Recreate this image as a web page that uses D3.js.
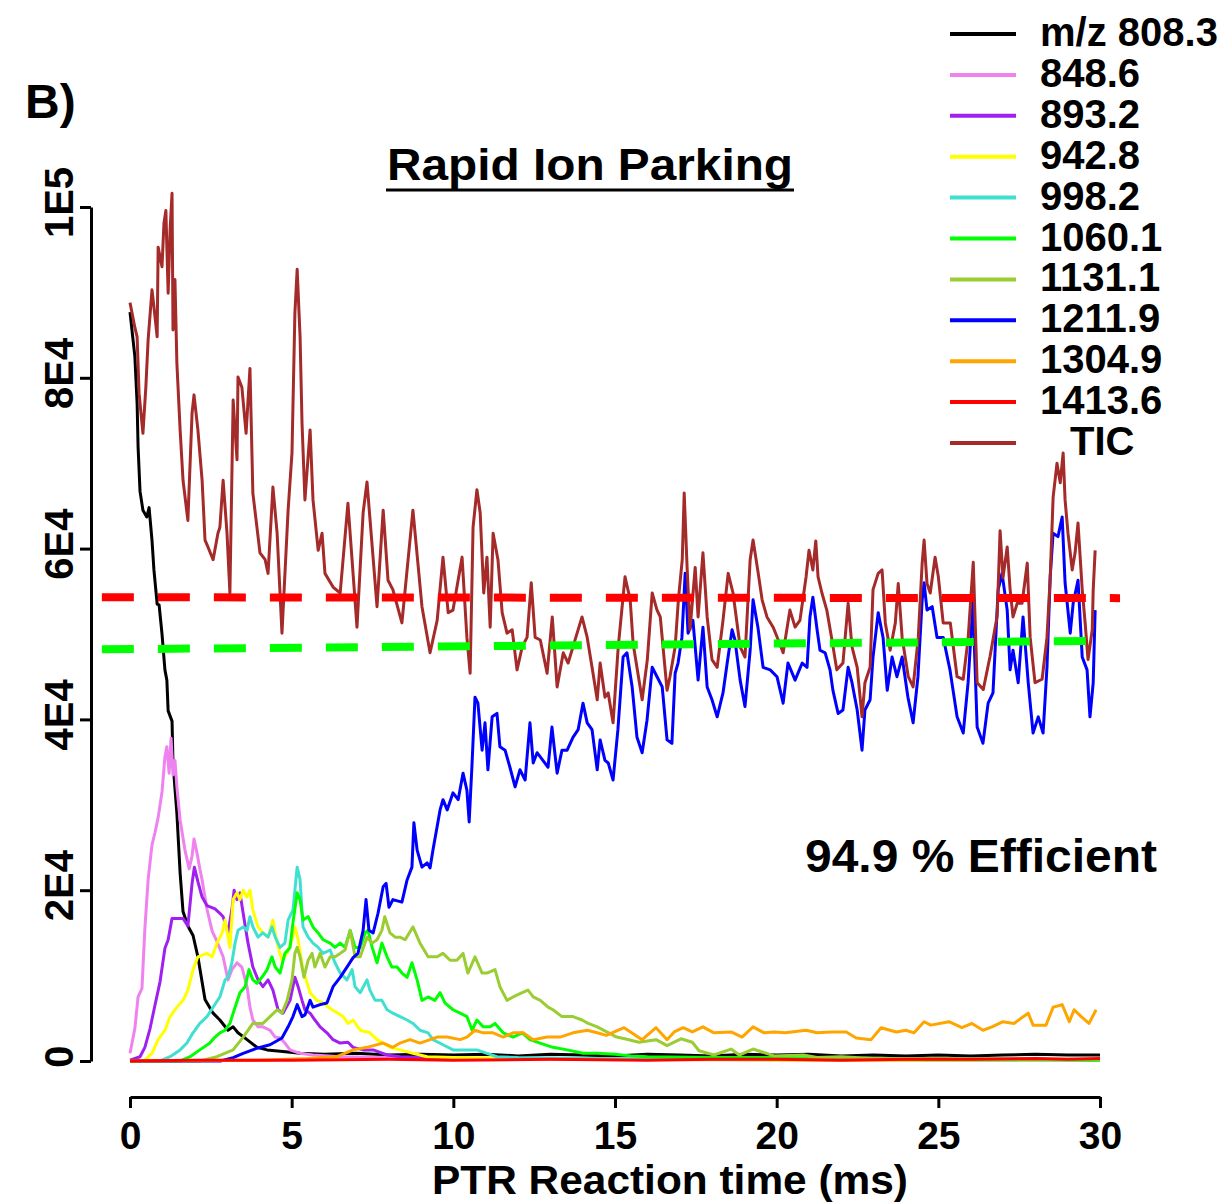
<!DOCTYPE html>
<html>
<head>
<meta charset="utf-8">
<script src="https://cdn.jsdelivr.net/npm/d3@7"></script>
<style>
  body { margin: 0; background: #fff; }
  text { font-family: "Liberation Sans", Arial, sans-serif; font-weight: bold; fill: #000; }
</style>
</head>
<body>
<svg id="chart" width="1230" height="1203"></svg>
<script>
// ---- data (time in ms, intensity in thousands of counts) ----
var xTicks = [0, 5, 10, 15, 20, 25, 30];
var yTicks = [0, 20, 40, 60, 80, 100];
var yTickLabels = ['0', '2E4', '4E4', '6E4', '8E4', '1E5'];

var legendNames = ['m/z 808.3', '848.6', '893.2', '942.8', '998.2', '1060.1', '1131.1', '1211.9', '1304.9', '1413.6', 'TIC'];
var legendColors = ['#000000', '#EE82EE', '#A020F0', '#FFFF00', '#40E0D0', '#00FF00', '#9ACD32', '#0000FF', '#FFA500', '#FF0000', '#A52A2A'];

var mz808 = [[0,87.7],[0.15,82.5],[0.22,77],[0.25,71.9],[0.31,66.7],[0.40,64.5],[0.52,63.7],[0.59,64.8],[0.68,61],[0.74,57.5],[0.84,53.5],[0.90,53.4],[0.99,50],[1.08,45.8],[1.14,44.6],[1.18,41],[1.30,39.8],[1.33,34.9],[1.45,29.0],[1.55,22],[1.64,17.5],[1.79,15.8],[1.95,14.7],[2.10,12.2],[2.32,7.2],[2.57,5.6],[2.78,4.8],[3.03,3.6],[3.19,4.0],[3.34,3.3],[3.62,2.5],[3.93,1.6],[4.24,1.3],[4.73,1.1],[5.26,0.9],[6,0.8],[7,0.9],[8,0.7],[9,0.8],[10,0.7],[11,0.8],[12,0.6],[13,0.8],[14,0.7],[15,0.6],[16,0.8],[17,0.7],[18,0.6],[19,0.8],[20,0.7],[21,0.8],[22,0.6],[23,0.7],[24,0.6],[25,0.7],[26,0.6],[27,0.7],[28,0.8],[29,0.7],[30,0.7]];

var mz848 = [[0,0.9],[0.15,3.8],[0.25,7.5],[0.37,8.5],[0.46,15.5],[0.56,21.2],[0.68,25.3],[0.77,26.7],[0.87,28.5],[0.99,31.5],[1.08,35.6],[1.14,36.8],[1.21,33.7],[1.27,37.8],[1.33,33.5],[1.39,35.2],[1.45,32.1],[1.55,28.2],[1.70,24.7],[1.83,22.5],[1.92,24.0],[1.98,26.0],[2.07,24.4],[2.16,22.5],[2.23,21.2],[2.38,17.8],[2.54,15.2],[2.69,14.0],[2.88,12.2],[3.03,9.5],[3.15,10.7],[3.31,11.5],[3.46,11.0],[3.62,8.7],[3.71,6.3],[3.80,4.8],[3.96,4.0],[4.11,4.0],[4.33,3.6],[4.49,2.8],[4.64,2.7],[4.79,2.1],[4.95,1.3],[5.26,0.9],[5.66,0.7],[6.5,0.5],[8,0.4],[10,0.3],[15,0.2],[20,0.1],[30,0.1]];

var mz893 = [[0,0.1],[0.31,0.5],[0.46,1.6],[0.62,3.8],[0.77,6.5],[0.93,9.3],[1.08,13.2],[1.18,14.2],[1.30,16.7],[1.45,16.7],[1.64,16.7],[1.79,15.8],[1.92,20.8],[1.99,22.7],[2.10,21.0],[2.23,19.2],[2.38,18.2],[2.63,17.8],[2.78,17.3],[2.88,16.9],[3.03,15.0],[3.15,17.7],[3.22,20.0],[3.31,18.9],[3.40,19.7],[3.50,17.3],[3.65,13.8],[3.80,11.0],[3.96,9.5],[4.11,8.7],[4.27,9.5],[4.42,8.3],[4.58,6.0],[4.73,5.6],[4.95,7.1],[5.10,9.8],[5.20,8.7],[5.32,7.1],[5.41,6.0],[5.57,5.6],[5.72,4.8],[5.88,4.0],[6.09,3.3],[6.28,2.5],[6.50,2.1],[6.74,2.2],[6.90,1.6],[7.21,1.3],[7.52,1.3],[7.95,0.7],[8.35,0.5],[9,0.4],[10,0.3],[12,0.3],[15,0.2],[20,0.2],[25,0.1],[30,0.1]];

var mz942 = [[0,0],[0.46,0.1],[0.68,0.9],[0.87,2.5],[1.08,3.6],[1.24,5.2],[1.45,6.3],[1.64,7.1],[1.79,8.3],[1.95,10.7],[2.10,12.2],[2.38,12.6],[2.54,12.2],[2.69,13.8],[2.85,15.0],[2.94,16.5],[3.09,13.3],[3.19,18.9],[3.31,19.7],[3.40,18.9],[3.50,20.0],[3.62,19.2],[3.71,20.0],[3.80,17.7],[3.96,15.7],[4.11,15.0],[4.27,14.5],[4.42,16.5],[4.55,13.8],[4.70,11.8],[4.86,12.6],[5.01,14.2],[5.10,15.7],[5.20,14.2],[5.35,10.7],[5.57,8.0],[5.78,7.1],[5.97,6.8],[6.25,6.0],[6.43,5.6],[6.59,5.2],[6.74,4.4],[6.90,4.8],[7.12,3.6],[7.42,3.3],[7.64,2.5],[7.83,2.1],[8.04,1.6],[8.35,1.3],[8.75,0.9],[9.19,0.5],[10,0.4],[12,0.3],[15,0.2],[20,0.1],[30,0.1]];

var mz998 = [[0,0],[0.93,0],[1.24,0.5],[1.55,1.3],[1.76,2.1],[1.95,3.3],[2.16,4.4],[2.38,5.2],[2.57,6.3],[2.78,7.5],[2.94,9.5],[3.03,9.8],[3.15,11.5],[3.25,13.8],[3.34,15.3],[3.50,15.7],[3.62,15.3],[3.71,16.9],[3.80,15.7],[3.96,14.5],[4.11,15.0],[4.27,14.5],[4.39,15.7],[4.49,14.5],[4.64,13.3],[4.79,13.8],[4.89,16.5],[5.04,17.7],[5.17,22.7],[5.26,21.2],[5.35,15.7],[5.51,14.5],[5.66,13.8],[5.82,13.3],[5.97,12.6],[6.19,13.0],[6.34,11.5],[6.50,10.3],[6.71,9.5],[6.87,10.7],[6.96,8.7],[7.12,8.0],[7.33,9.5],[7.42,8.3],[7.58,7.1],[7.79,7.1],[7.95,6.0],[8.13,5.6],[8.35,5.2],[8.57,4.8],[8.75,4.4],[8.97,3.6],[9.22,3.3],[9.37,2.5],[9.68,1.9],[9.99,1.3],[10.42,1.3],[10.73,1.3],[11.04,0.9],[11.35,0.5],[12,0.4],[14,0.3],[18,0.2],[22,0.2],[30,0.1]];

var mz1060 = [[0,0],[1.55,0],[1.86,0.5],[2.16,1.3],[2.47,2.1],[2.63,2.8],[2.78,3.3],[2.94,3.6],[3.09,4.4],[3.25,6.3],[3.40,8.0],[3.56,8.7],[3.68,10.7],[3.80,9.5],[3.93,9.1],[4.08,9.8],[4.24,10.7],[4.39,12.2],[4.49,11.0],[4.64,10.3],[4.79,12.6],[4.95,13.3],[5.04,16.2],[5.17,19.7],[5.26,18.9],[5.35,16.5],[5.51,16.9],[5.66,15.7],[5.82,15.0],[5.97,14.2],[6.19,13.8],[6.34,13.3],[6.50,13.8],[6.65,13.3],[6.81,15.3],[6.96,13.3],[7.12,13.3],[7.27,15.0],[7.36,15.3],[7.49,13.3],[7.64,11.5],[7.79,13.8],[7.95,12.2],[8.10,11.0],[8.26,11.0],[8.41,10.3],[8.57,9.8],[8.72,11.5],[8.88,9.5],[9.03,7.1],[9.22,7.5],[9.43,7.1],[9.59,8.0],[9.74,6.8],[9.99,6.0],[10.21,5.6],[10.42,5.2],[10.58,3.6],[10.73,4.8],[10.92,4.0],[11.14,4.0],[11.29,4.4],[11.54,3.3],[11.85,2.8],[12.13,3.3],[12.37,2.5],[12.68,2.1],[13.08,1.6],[13.52,1.3],[14.01,0.9],[14.45,0.9],[15,0.8],[15.5,0.6],[16,0.5],[18,0.4],[20,0.4],[22,0.3],[25,0.2],[28,0.2],[30,0.1]];

var mz1131 = [[0,0],[2.16,0],[2.69,0.5],[3.19,1.3],[3.50,2.8],[3.80,4.4],[4.11,4.4],[4.33,5.2],[4.55,6.0],[4.70,5.6],[4.86,7.1],[5.01,9.5],[5.10,12.6],[5.17,13.3],[5.26,12.2],[5.38,9.8],[5.51,11.8],[5.63,12.6],[5.72,11.0],[5.88,12.6],[6.03,11.0],[6.19,12.2],[6.34,12.2],[6.50,12.6],[6.65,13.0],[6.81,15.3],[6.96,12.2],[7.12,12.2],[7.33,14.5],[7.49,13.8],[7.64,14.2],[7.79,15.3],[7.88,16.9],[8.04,15.0],[8.20,14.5],[8.35,14.5],[8.51,14.2],[8.75,15.7],[8.97,13.8],[9.22,12.2],[9.50,12.2],[9.68,12.6],[9.90,11.8],[10.11,11.8],[10.30,12.6],[10.45,10.3],[10.67,12.2],[10.89,10.3],[11.04,10.3],[11.29,10.7],[11.44,8.7],[11.66,7.1],[11.85,7.5],[12.13,8.0],[12.31,8.3],[12.47,7.5],[12.69,7.1],[12.93,6.3],[13.08,6.0],[13.36,5.2],[13.70,5.2],[13.98,4.8],[14.17,4.4],[14.45,4.0],[14.70,3.5],[15.05,2.8],[15.30,2.6],[15.74,2.2],[16.27,2.5],[16.61,1.8],[17.04,2.6],[17.39,2.2],[17.60,1.2],[18.06,0.7],[18.59,1.4],[18.84,0.7],[19.27,1.4],[19.92,0.6],[20.82,0.7],[21.25,0.4],[22,0.5],[23,0.3],[25,0.3],[27,0.2],[30,0.2]];

var mz1211 = [[0,0],[2.8,0],[3.19,0.4],[3.50,0.9],[3.93,1.5],[4.33,1.9],[4.70,2.7],[4.89,4.0],[5.04,5.2],[5.17,6.6],[5.32,5.2],[5.41,5.4],[5.57,7.1],[5.66,6.3],[5.88,6.6],[6.09,6.8],[6.28,8.7],[6.50,9.8],[6.71,11.0],[6.90,12.1],[7.05,12.6],[7.21,15.3],[7.30,18.9],[7.39,15.3],[7.52,15.0],[7.67,17.3],[7.83,20.4],[7.92,20.8],[8.01,18.0],[8.13,18.9],[8.41,18.6],[8.57,21.2],[8.72,22.7],[8.78,27.9],[8.88,24.7],[9.03,22.7],[9.19,23.2],[9.28,22.6],[9.37,24.7],[9.59,29.4],[9.68,30.6],[9.81,29.4],[9.99,31.4],[10.15,30.6],[10.30,33.7],[10.42,31.7],[10.49,28.0],[10.58,34.9],[10.67,42.6],[10.76,41.9],[10.89,36.4],[10.98,39.6],[11.07,34.1],[11.20,40.3],[11.35,40.7],[11.44,36.8],[11.60,36.4],[11.75,34.4],[11.91,32.1],[12.06,34.1],[12.22,32.9],[12.37,39.6],[12.47,34.9],[12.59,36.1],[12.77,35.2],[12.93,34.4],[13.05,39.1],[13.21,33.7],[13.36,36.4],[13.52,36.4],[13.70,37.9],[13.86,38.8],[14.01,41.9],[14.14,39.6],[14.29,38.8],[14.45,34.1],[14.54,37.6],[14.69,35.2],[14.79,34.9],[14.94,32.9],[15.09,38.8],[15.25,47.3],[15.37,47.8],[15.53,43.8],[15.68,37.9],[15.84,36.1],[15.99,39.9],[16.15,46.1],[16.30,45.0],[16.46,43.8],[16.61,37.6],[16.76,37.2],[16.86,45.4],[16.95,46.6],[17.07,49.6],[17.17,57.1],[17.26,50.1],[17.41,51.6],[17.57,44.6],[17.72,50.8],[17.85,43.8],[18.00,42.3],[18.16,40.3],[18.34,43.1],[18.47,46.6],[18.62,50.5],[18.71,49.3],[18.87,44.6],[19.02,41.5],[19.18,48.1],[19.27,54.0],[19.42,50.8],[19.58,46.1],[19.80,45.8],[20.01,45.0],[20.20,41.9],[20.35,46.6],[20.57,44.6],[20.79,46.6],[20.94,46.1],[21.03,52.0],[21.12,54.3],[21.25,50.5],[21.34,48.1],[21.50,47.8],[21.65,45.8],[21.74,43.4],[21.90,40.7],[22.05,41.1],[22.21,46.1],[22.33,44.3],[22.49,41.1],[22.64,36.4],[22.73,41.1],[22.89,42.3],[22.98,47.3],[23.14,52.5],[23.29,49.6],[23.42,43.4],[23.57,47.3],[23.72,45.0],[23.88,47.3],[24.06,42.6],[24.22,39.6],[24.37,45.0],[24.50,54.0],[24.56,56.0],[24.65,52.8],[24.81,53.2],[24.96,49.6],[25.15,49.6],[25.36,45.8],[25.58,40.3],[25.77,38.4],[25.92,44.3],[26.07,53.6],[26.20,39.1],[26.38,37.2],[26.54,41.9],[26.69,43.1],[26.85,55.2],[26.97,57.1],[27.13,52.8],[27.22,45.8],[27.31,48.1],[27.47,44.3],[27.62,52.0],[27.78,44.3],[27.93,38.4],[28.09,40.3],[28.24,38.4],[28.36,46.1],[28.46,56.7],[28.55,61.8],[28.70,61.4],[28.83,63.7],[28.92,56.0],[29.08,50.1],[29.17,53.6],[29.32,56.3],[29.45,47.3],[29.60,45.8],[29.69,40.3],[29.79,44.3],[29.85,52.8]];

var mz1304 = [[0,0],[4.0,0.1],[5.5,0.3],[6.4,0.5],[6.90,1.3],[7.33,1.6],[7.83,2.1],[8.13,1.6],[8.35,2.1],[8.66,2.5],[8.97,2.1],[9.28,2.5],[9.50,2.8],[9.81,2.8],[10.21,2.5],[10.42,2.8],[10.67,3.6],[10.92,3.3],[11.23,3.3],[11.54,2.8],[11.85,3.3],[12.16,3.3],[12.47,2.5],[12.90,2.8],[13.30,2.8],[13.70,3.3],[14.14,3.6],[14.45,3.3],[14.73,3.0],[15.28,3.9],[15.84,2.5],[16.27,3.9],[16.61,2.5],[16.83,3.4],[17.11,3.9],[17.39,3.4],[17.72,4.0],[18.06,3.3],[18.59,3.4],[18.93,2.8],[19.27,4.0],[19.61,3.3],[19.92,3.4],[20.26,3.3],[20.91,3.6],[21.25,3.3],[21.68,3.4],[22.15,3.4],[22.46,2.7],[22.92,2.5],[23.23,3.9],[23.70,3.4],[24.00,3.6],[24.25,3.3],[24.56,4.6],[24.77,4.2],[25.33,4.6],[25.73,3.9],[26.04,4.4],[26.38,3.6],[26.66,4.0],[27.00,4.6],[27.34,4.4],[27.56,5.0],[27.78,5.6],[27.93,4.2],[28.33,4.2],[28.55,6.3],[28.83,6.6],[29.05,4.6],[29.20,6.0],[29.42,5.2],[29.66,4.4],[29.88,6.0]];

var mz1413 = [[0,0],[2,0.1],[5,0.1],[8,0.2],[10,0.1],[13,0.2],[16,0.1],[18,0.2],[20,0.2],[22,0.1],[24,0.2],[26,0.2],[28,0.3],[29,0.2],[30,0.3]];

var tic = [[0,88.8],[0.15,85.9],[0.22,84.8],[0.28,78.2],[0.40,73.5],[0.49,78.9],[0.56,84.4],[0.68,90.3],[0.74,88.3],[0.84,84.8],[0.87,95.3],[0.99,93.0],[1.05,98.1],[1.11,99.6],[1.14,95.3],[1.18,89.9],[1.24,97.3],[1.30,101.6],[1.33,85.6],[1.39,91.5],[1.45,81.7],[1.55,73.9],[1.64,68.0],[1.79,63.3],[1.92,75.9],[1.98,78.0],[2.10,73.9],[2.23,68.0],[2.32,61.0],[2.41,60.2],[2.57,58.7],[2.72,61.8],[2.78,62.5],[2.88,68.0],[3.00,61.8],[3.09,54.8],[3.19,77.4],[3.31,70.4],[3.34,80.1],[3.46,78.9],[3.59,73.5],[3.71,81.1],[3.80,66.5],[4.02,59.5],[4.18,58.7],[4.27,57.1],[4.42,67.2],[4.55,61.8],[4.70,50.1],[4.89,64.5],[5.01,71.2],[5.10,87.6],[5.17,92.7],[5.26,84.8],[5.32,74.7],[5.41,65.7],[5.57,73.9],[5.66,65.7],[5.82,59.8],[5.94,61.8],[6.03,57.1],[6.28,55.5],[6.50,54.8],[6.74,65.3],[7.02,50.8],[7.21,64.2],[7.33,67.8],[7.64,53.2],[7.83,64.5],[7.98,56.3],[8.13,55.2],[8.41,51.3],[8.75,64.5],[9.03,53.2],[9.28,47.8],[9.50,51.6],[9.68,59.0],[9.84,52.5],[9.99,52.8],[10.27,59.0],[10.42,49.6],[10.52,45.4],[10.61,62.5],[10.73,66.9],[10.83,64.2],[10.94,54.8],[11.04,59.0],[11.14,50.8],[11.23,61.8],[11.38,58.7],[11.51,52.5],[11.66,50.1],[11.82,50.5],[11.97,45.8],[12.13,48.5],[12.28,49.6],[12.41,56.0],[12.53,49.6],[12.69,49.3],[12.90,45.4],[13.06,52.0],[13.21,43.8],[13.40,47.8],[13.55,46.6],[13.70,48.5],[13.98,52.0],[14.14,49.6],[14.32,45.4],[14.45,42.3],[14.54,46.6],[14.69,42.6],[14.79,43.1],[14.94,39.6],[15.10,48.5],[15.31,56.7],[15.47,54.0],[15.56,48.9],[15.84,42.3],[16.00,47.0],[16.15,54.8],[16.30,52.8],[16.40,52.0],[16.61,43.4],[16.70,45.0],[16.86,48.5],[16.96,54.0],[17.08,58.7],[17.14,66.5],[17.23,57.8],[17.32,50.5],[17.48,57.8],[17.57,52.0],[17.72,59.5],[17.85,52.0],[18.00,47.0],[18.16,46.1],[18.34,51.6],[18.50,57.1],[18.65,54.8],[18.87,48.5],[19.02,47.3],[19.18,58.7],[19.27,61.0],[19.43,57.1],[19.55,54.0],[19.70,52.0],[19.89,50.8],[20.05,49.3],[20.20,47.8],[20.41,52.8],[20.57,50.8],[20.72,51.6],[20.91,56.7],[21.00,59.8],[21.12,57.5],[21.21,60.9],[21.28,56.7],[21.40,54.8],[21.55,52.8],[21.71,49.3],[21.86,45.8],[22.05,46.6],[22.21,53.6],[22.33,48.5],[22.49,46.1],[22.64,40.3],[22.73,44.3],[22.89,46.1],[22.98,55.2],[23.14,57.1],[23.26,57.5],[23.36,51.3],[23.51,48.1],[23.67,51.3],[23.76,55.9],[23.88,49.6],[24.07,45.0],[24.22,43.8],[24.38,49.6],[24.50,58.3],[24.56,61.0],[24.65,55.9],[24.75,54.8],[24.90,59.0],[25.00,56.7],[25.15,51.3],[25.37,51.3],[25.58,45.0],[25.77,44.7],[25.92,49.4],[26.08,58.4],[26.20,44.3],[26.39,43.5],[26.60,47.4],[26.82,52.1],[26.91,62.1],[27.00,56.6],[27.13,60.2],[27.22,55.2],[27.31,52.0],[27.44,53.6],[27.59,53.6],[27.75,58.3],[27.84,49.6],[27.99,44.3],[28.21,44.7],[28.36,49.6],[28.46,56.6],[28.55,66.0],[28.67,70.0],[28.77,67.7],[28.86,71.2],[28.92,65.7],[29.01,61.8],[29.14,57.5],[29.23,59.5],[29.32,63.0],[29.45,55.2],[29.54,51.3],[29.63,47.0],[29.76,50.5],[29.79,55.2],[29.85,59.8]];

// reference levels (dashed)
var redLevel = [[-0.87, 54.3], [30.62, 54.2]];
var greenLevel = [[-0.87, 48.2], [30.0, 49.2]];

var allSeries = [mz808, mz848, mz893, mz942, mz998, mz1060, mz1131, mz1211, mz1304, mz1413, tic];

// ---- drawing ----
var svg = d3.select('#chart');
svg.append('rect').attr('width', 1230).attr('height', 1203).attr('fill', '#fff');

var x = d3.scaleLinear().domain([0, 30]).range([130, 1100]);
var y = d3.scaleLinear().domain([0, 100]).range([1061, 207]);

var line = d3.line()
  .x(function(d) { return x(d[0]); })
  .y(function(d) { return y(d[1]); });

// y axis
var yAxis = svg.append('g')
  .attr('transform', 'translate(91,0)')
  .call(d3.axisLeft(y).tickValues(yTicks).tickSize(11).tickSizeOuter(0)
    .tickFormat(function(d, i) { return yTickLabels[i]; }));
yAxis.selectAll('path, line').attr('stroke', '#000').attr('stroke-width', 3);
yAxis.selectAll('text')
  .attr('dy', null)
  .attr('transform', 'translate(-18,0) rotate(-90)')
  .attr('x', 5).attr('y', 0)
  .attr('text-anchor', 'middle')
  .style('font-size', '40px')
  .style('font-family', '"Liberation Sans", Arial, sans-serif')
  .style('font-weight', 'bold')
  .attr('fill', '#000');

// x axis
var xAxis = svg.append('g')
  .attr('transform', 'translate(0,1097)')
  .call(d3.axisBottom(x).tickValues(xTicks).tickSize(11).tickSizeOuter(0).tickFormat(d3.format('d')));
xAxis.selectAll('path, line').attr('stroke', '#000').attr('stroke-width', 3);
xAxis.selectAll('text')
  .attr('y', 52).attr('dy', null)
  .style('font-size', '39px')
  .style('font-family', '"Liberation Sans", Arial, sans-serif')
  .style('font-weight', 'bold')
  .attr('fill', '#000');

// series
svg.append('g').selectAll('path')
  .data(allSeries)
  .join('path')
  .attr('d', line)
  .attr('fill', 'none')
  .attr('stroke', function(d, i) { return legendColors[i]; })
  .attr('stroke-width', 3)
  .attr('stroke-linejoin', 'round');

// dashed levels
svg.append('path').attr('d', line(redLevel))
  .attr('stroke', '#FF0000').attr('stroke-width', 8).attr('fill', 'none')
  .attr('stroke-dasharray', '32 24');
svg.append('path').attr('d', line(greenLevel))
  .attr('stroke', '#00FF00').attr('stroke-width', 8).attr('fill', 'none')
  .attr('stroke-dasharray', '32 24');

// legend
var legend = svg.append('g');
legendNames.forEach(function(name, i) {
  var ly = 34 + i * 40.9;
  legend.append('line')
    .attr('x1', 950).attr('x2', 1016).attr('y1', ly).attr('y2', ly)
    .attr('stroke', legendColors[i]).attr('stroke-width', 4);
  legend.append('text')
    .attr('x', name === 'TIC' ? 1070 : 1040)
    .attr('y', ly + 12)
    .style('font-size', '40px')
    .text(name);
});

// labels
svg.append('text').attr('x', 25).attr('y', 118).style('font-size', '48px').text('B)');

svg.append('text').attr('x', 387).attr('y', 180)
  .attr('textLength', 406).attr('lengthAdjust', 'spacingAndGlyphs')
  .style('font-size', '45px').text('Rapid Ion Parking');
svg.append('line').attr('x1', 386).attr('x2', 794).attr('y1', 190).attr('y2', 190)
  .attr('stroke', '#000').attr('stroke-width', 3);

svg.append('text').attr('x', 805).attr('y', 872)
  .attr('textLength', 352).attr('lengthAdjust', 'spacingAndGlyphs')
  .style('font-size', '46px').text('94.9 % Efficient');

svg.append('text').attr('x', 432).attr('y', 1194)
  .attr('textLength', 476).attr('lengthAdjust', 'spacingAndGlyphs')
  .style('font-size', '40px').text('PTR Reaction time (ms)');
</script>
</body>
</html>
